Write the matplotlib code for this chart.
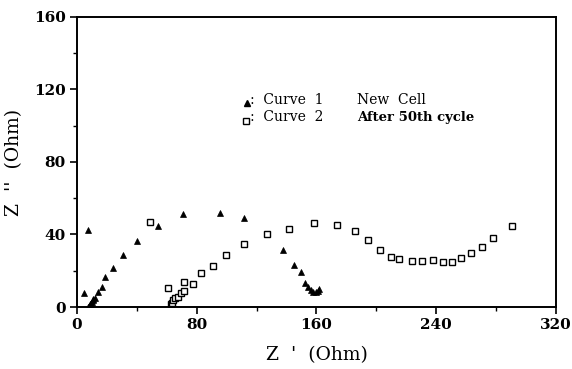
import matplotlib
matplotlib.use("Agg")
import matplotlib.pyplot as plt
from matplotlib.ticker import MultipleLocator

# Curve 1 - new cell (filled triangles)
curve1_x = [7.6, 4.5, 7.5, 8.0, 8.5, 9.0, 9.5, 10.0, 10.5, 11.0, 12.0, 13.8,
            16.7, 19.0, 23.8, 30.7, 40.0, 54.0, 71.0, 95.7, 111.8, 126.7,
            137.8, 144.7, 149.8, 152.5, 154.5, 156.5, 158.0, 159.5, 161.0, 162.0]
curve1_y = [42.5, 7.5, 0.2, 0.5, 1.0, 1.5, 2.2, 3.0, 3.8, 4.5, 5.2, 8.4,
            11.2, 16.4, 21.3, 28.5, 36.4, 44.7, 51.3, 52.0, 49.0, 40.3,
            31.4, 23.2, 19.5, 13.4, 10.8, 9.4, 8.5, 8.1, 9.0, 10.0]

# Curve 2 - after 50th cycle (open squares)
curve2_x = [48.8, 60.6, 62.5, 63.2, 64.3, 65.5, 67.3, 69.5, 71.7, 71.7, 77.7,
            82.8, 90.8, 99.8, 111.8, 126.7, 141.8, 158.5, 173.7, 185.7, 194.6,
            202.6, 209.5, 215.3, 223.8, 230.5, 237.6, 244.5, 250.5, 256.5,
            263.4, 270.3, 278.1, 290.4]
curve2_y = [46.9, 10.7, 1.5, 2.4, 3.9, 4.8, 5.7, 7.5, 8.8, 13.6, 12.5,
            18.6, 22.6, 28.5, 34.8, 40.3, 42.8, 46.2, 45.0, 41.9, 36.8,
            31.6, 27.6, 26.5, 25.6, 25.6, 25.9, 24.6, 24.6, 26.8,
            29.8, 32.9, 37.9, 44.9]

x_ticks = [0, 80, 160, 240, 320]
y_ticks = [0, 40, 80, 120, 160]

serif = ['DejaVu Serif']

fig = plt.figure(figsize=(5.72, 3.69), dpi=100)
ax = fig.add_axes([0.1346, 0.168, 0.8374, 0.786])

ax.plot(curve1_x, curve1_y, linestyle='none', marker='^', markersize=5,
        color='black', markeredgewidth=0.5)
ax.plot(curve2_x, curve2_y, linestyle='none', marker='s', markersize=4.5,
        markerfacecolor='white', markeredgecolor='black', markeredgewidth=1.0)

ax.set_xlim(0, 320)
ax.set_ylim(0, 160)
ax.set_xticks(x_ticks)
ax.set_yticks(y_ticks)
ax.xaxis.set_minor_locator(MultipleLocator(40))
ax.yaxis.set_minor_locator(MultipleLocator(20))
ax.tick_params(which='major', direction='out', length=5, width=1.2,
               labelsize=11, pad=3)
ax.tick_params(which='minor', direction='out', length=3, width=1.0)
for lab in ax.get_xticklabels() + ax.get_yticklabels():
    lab.set_family(serif)
    lab.set_fontweight('bold')

for side in ['top', 'bottom', 'left', 'right']:
    ax.spines[side].set_linewidth(1.4)

ax.set_xlabel("Z  '  (Ohm)", family=serif, fontsize=13.5, labelpad=10)
ax.set_ylabel("Z  ''  (Ohm)", family=serif, fontsize=13.5, labelpad=8)

# Legend block
ax.plot([0.354], [0.703], transform=ax.transAxes, marker='^', markersize=5,
        color='black', linestyle='none', clip_on=False)
ax.plot([0.352], [0.643], transform=ax.transAxes, marker='s', markersize=4.5,
        markerfacecolor='white', markeredgecolor='black', linestyle='none',
        clip_on=False)
ax.text(0.362, 0.714, ":  Curve  1", transform=ax.transAxes, family=serif,
        fontsize=10, va='center')
ax.text(0.362, 0.654, ":  Curve  2", transform=ax.transAxes, family=serif,
        fontsize=10, va='center')
ax.text(0.585, 0.714, "New  Cell", transform=ax.transAxes, family=serif,
        fontsize=10, va='center')
ax.text(0.585, 0.654, "After 50th cycle", transform=ax.transAxes, family=serif,
        fontsize=9.5, fontweight='bold', va='center')

fig.savefig('out.png', dpi=100, facecolor='white')
plt.close(fig)
